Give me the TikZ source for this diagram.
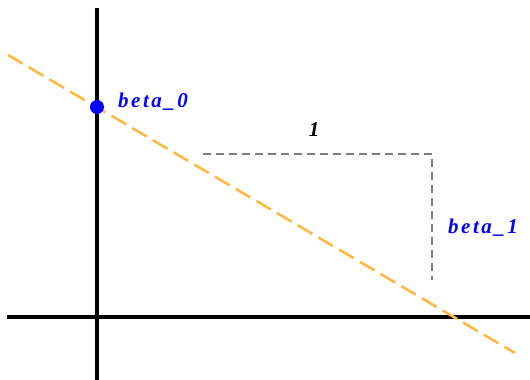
\documentclass[tikz,border=0pt]{standalone}
\usepackage{fontspec}
\setmainfont{Liberation Serif}
\newfontfamily\lblfont[LetterSpace=12]{Liberation Serif}
\definecolor{lineorange}{RGB}{255,185,70}
\definecolor{guidegray}{RGB}{125,125,125}
\begin{document}
\begin{tikzpicture}[x=1pt,y=-1pt,
  axis/.style={line width=4pt,black},
  fitline/.style={line width=2.6pt,lineorange,dash pattern=on 17pt off 7pt},
  guide/.style={line width=2.2pt,guidegray,dash pattern=on 8pt off 5pt},
  lbl/.style={font=\lblfont\fontsize{21}{23}\selectfont\bfseries\itshape,inner sep=0pt},
  dot/.style={circle,fill=blue,inner sep=0pt,minimum size=14pt}]
\useasboundingbox (0,0) rectangle (530,380);
\coordinate (ytop) at (97,8);
\coordinate (ybot) at (97,380);
\coordinate (xl) at (7,317);
\coordinate (xr) at (530,317);
\draw[axis] (ytop) -- (ybot);
\draw[axis] (xl) -- (xr);
\coordinate (ls) at (8,55);
\coordinate (le) at (515,353);
\draw[fitline] (ls) -- (le);
\coordinate (ga) at (203,154);
\coordinate (gb) at (432,154);
\coordinate (gc) at (432,280);
\draw[guide] (ga) -- (gb) -- (gc);
\node[dot] (b0) at (97,107) {};
\node[lbl,blue,anchor=west] (b0l) at (118,102) {beta\_0};
\node[lbl,black] (one) at (314,130) {1};
\node[lbl,blue,anchor=west] (b1l) at (448,228) {beta\_1};
\end{tikzpicture}
\end{document}
